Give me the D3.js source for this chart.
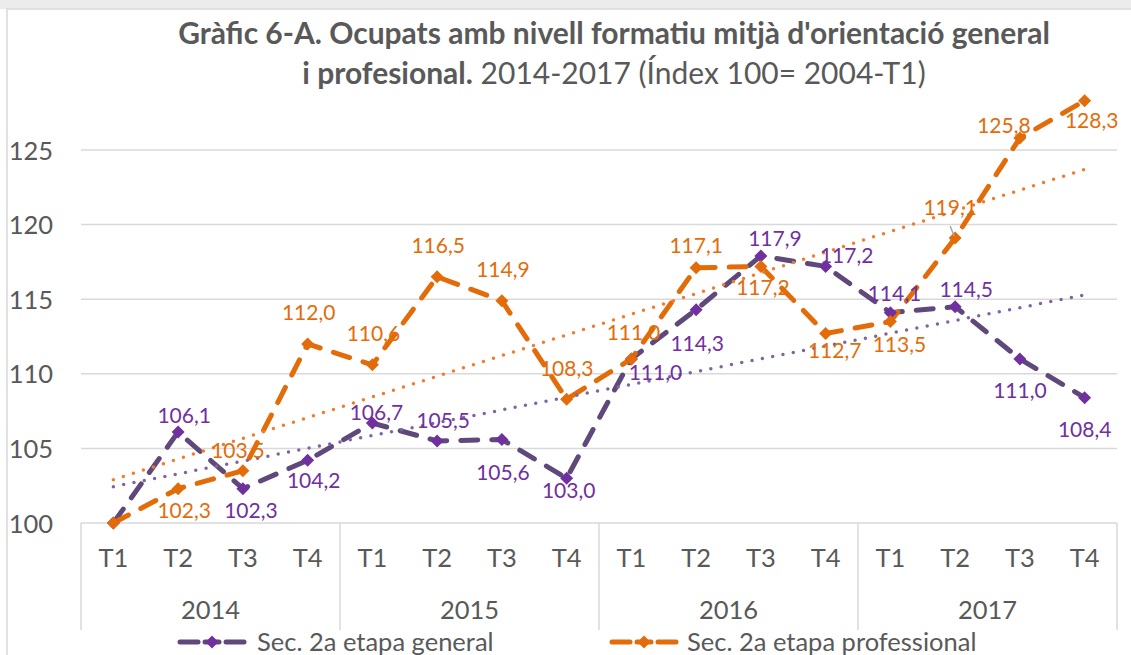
<!DOCTYPE html>
<html>
<head>
<meta charset="utf-8">
<script src="https://cdn.jsdelivr.net/npm/d3@7"></script>
<style>
  body { margin: 0; background: #fff; }
  text { font-family: Lato, "Open Sans", sans-serif; }
</style>
</head>
<body>
<svg id="chart" width="1131" height="655"></svg>
<script>
// data
var years = ["2014", "2015", "2016", "2017"];
var quarters = ["T1", "T2", "T3", "T4"];
var general = [100.0, 106.1, 102.3, 104.2, 106.7, 105.5, 105.6, 103.0,
               111.0, 114.3, 117.9, 117.2, 114.1, 114.5, 111.0, 108.4];
var professional = [100.0, 102.3, 103.5, 112.0, 110.6, 116.5, 114.9, 108.3,
                    111.0, 117.1, 117.2, 112.7, 113.5, 119.1, 125.8, 128.3];
var yTicks = [100, 105, 110, 115, 120, 125];
var seriesNames = ["Sec. 2a etapa general", "Sec. 2a etapa professional"];

// label placement (offset of text centre / baseline from the point), null = no label
var generalLabelPos = [null, [6,-9], [8,29], [6,28], [4,-3], [6,-13], [1,41], [2,20],
                       [24,21], [1,41], [14,-10], [21,-3], [4,-12], [11,-10], [0,39], [0,39]];
var professionalLabelPos = [null, [6,29], [-5,-13], [1,-24], [1,-24], [1,-24], [1,-24], [0,-23],
                            [2,-19], [0,-15], [2,29], [9,24], [9,30], [-5,-23], [-16,-5], [7,27]];

var svg = d3.select("#chart");
var grey = "#595959";
var axisFont = "25.5px";

// chart frame
svg.append("rect").attr("x", 0).attr("y", 0).attr("width", 1131).attr("height", 9).attr("fill", "#ececec");
svg.append("rect").attr("x", 7).attr("y", 9).attr("width", 1140).attr("height", 660)
  .attr("fill", "#fff").attr("stroke", "#d9d9d9").attr("stroke-width", 1.5);

var cats = [];
years.forEach(function(yr) {
  quarters.forEach(function(q) { cats.push(yr + "-" + q); });
});

var x = d3.scaleBand().domain(cats).range([81, 1117]);
var y = d3.scaleLinear().domain([100, 125]).range([523, 150]);
var cx = function(i) { return x(cats[i]) + x.bandwidth() / 2; };

// gridlines
svg.append("g").selectAll("line").data(yTicks).enter().append("line")
  .attr("x1", 81).attr("x2", 1117)
  .attr("y1", function(d) { return y(d); }).attr("y2", function(d) { return y(d); })
  .attr("stroke", "#d9d9d9").attr("stroke-width", 1.5);

// y axis labels
var yAxis = svg.append("g").attr("transform", "translate(81,0)")
  .call(d3.axisLeft(y).tickValues(yTicks).tickSize(0).tickPadding(28));
yAxis.select(".domain").remove();
yAxis.selectAll("text").attr("fill", grey).style("font-size", axisFont)
  .style("font-family", "Lato").attr("dy", "0.36em");

// category axis: quarters
var xAxis = svg.append("g").attr("transform", "translate(0,523)")
  .call(d3.axisBottom(x).tickSize(0).tickPadding(26).tickFormat(function(d) { return d.split("-")[1]; }));
xAxis.select(".domain").remove();
xAxis.selectAll("text").attr("fill", grey).style("font-size", axisFont).style("font-family", "Lato");

// year group separators and labels
var bounds = years.map(function(yr, i) { return x(cats[i * 4]); }).concat([1117]);
svg.append("g").selectAll("line").data(bounds).enter().append("line")
  .attr("x1", function(d) { return d; }).attr("x2", function(d) { return d; })
  .attr("y1", 523).attr("y2", 630)
  .attr("stroke", "#d9d9d9").attr("stroke-width", 1.5);
svg.append("g").selectAll("text").data(years).enter().append("text")
  .attr("x", function(d, i) { return (bounds[i] + bounds[i + 1]) / 2; })
  .attr("y", 619).attr("text-anchor", "middle")
  .attr("fill", grey).style("font-size", axisFont)
  .text(function(d) { return d; });

// linear trend from the series values
function trend(vals) {
  var n = vals.length, mx = (n - 1) / 2, my = d3.mean(vals), sxy = 0, sxx = 0;
  vals.forEach(function(v, i) { sxy += (i - mx) * (v - my); sxx += (i - mx) * (i - mx); });
  var b = sxy / sxx, a = my - b * mx;
  return [[0, a], [n - 1, a + b * (n - 1)]];
}

var series = [
  { vals: general, line: "#5F497A", marker: "#7030A0", label: "#7030A0", trend: "#8064A2", pos: generalLabelPos },
  { vals: professional, line: "#E36C09", marker: "#E36C09", label: "#E36C09", trend: "#F07D2E", pos: professionalLabelPos }
];

var line = d3.line().x(function(d, i) { return cx(i); }).y(function(d) { return y(d); });
var diamond = function(r) { return "M0," + (-r) + "L" + r + ",0L0," + r + "L" + (-r) + ",0Z"; };

series.forEach(function(s) {
  svg.append("path").datum(s.vals).attr("d", line)
    .attr("fill", "none").attr("stroke", s.line).attr("stroke-width", 5)
    .attr("stroke-dasharray", "17 14").attr("stroke-linecap", "round").attr("stroke-linejoin", "round");
});

series.forEach(function(s) {
  var t = trend(s.vals);
  svg.append("line")
    .attr("x1", cx(t[0][0])).attr("y1", y(t[0][1]))
    .attr("x2", cx(t[1][0])).attr("y2", y(t[1][1]))
    .attr("stroke", s.trend).attr("stroke-width", 3.5)
    .attr("stroke-dasharray", "0 10.5").attr("stroke-linecap", "round");
});

series.forEach(function(s) {
  svg.append("g").selectAll("path").data(s.vals).enter().append("path")
    .attr("d", diamond(6.5))
    .attr("transform", function(d, i) { return "translate(" + cx(i) + "," + y(d) + ")"; })
    .attr("fill", s.marker);
});

// leader line for the 119,1 label
svg.append("line")
  .attr("x1", cx(13) - 5).attr("y1", y(professional[13]) - 12)
  .attr("x2", cx(13) - 1).attr("y2", y(professional[13]) - 2)
  .attr("stroke", "#a6a6a6").attr("stroke-width", 1.5);

// data labels
var fmt = function(v) { return d3.format(".1f")(v).replace(".", ","); };
series.forEach(function(s) {
  var g = svg.append("g");
  s.vals.forEach(function(v, i) {
    if (!s.pos[i]) return;
    g.append("text")
      .attr("x", cx(i) + s.pos[i][0]).attr("y", y(v) + s.pos[i][1])
      .attr("text-anchor", "middle").attr("fill", s.label)
      .style("font-size", "21px").text(fmt(v));
  });
});

// title
var t1 = svg.append("text").attr("x", 614).attr("y", 44).attr("text-anchor", "middle")
  .attr("fill", grey).style("font-size", "26px").style("font-weight", "bold")
  .text("Gràfic 6-A. Ocupats amb nivell formatiu mitjà d'orientació general");
var fs = 26 * 872 / t1.node().getComputedTextLength();
t1.style("font-size", fs + "px");
var t2 = svg.append("text").attr("x", 614).attr("y", 84).attr("text-anchor", "middle")
  .attr("fill", grey).style("font-size", fs + "px");
t2.append("tspan").style("font-weight", "bold").text("i profesional.");
t2.append("tspan").text(" 2014-2017 (Índex 100= 2004-T1)");

// legend
var legendItems = [
  { name: seriesNames[0], s: series[0], x0: 178, tx: 257 },
  { name: seriesNames[1], s: series[1], x0: 610, tx: 687 }
];
legendItems.forEach(function(it) {
  var ly = 642;
  [[it.x0 + 2, it.x0 + 20], [it.x0 + 48, it.x0 + 66]].forEach(function(seg) {
    svg.append("line").attr("x1", seg[0]).attr("x2", seg[1]).attr("y1", ly).attr("y2", ly)
      .attr("stroke", it.s.line).attr("stroke-width", 5).attr("stroke-linecap", "round");
  });
  svg.append("line").attr("x1", it.x0 + 27).attr("x2", it.x0 + 41).attr("y1", ly).attr("y2", ly)
    .attr("stroke", it.s.line).attr("stroke-width", 5).attr("stroke-linecap", "round");
  svg.append("path").attr("d", diamond(6.5))
    .attr("transform", "translate(" + (it.x0 + 34) + "," + ly + ")").attr("fill", it.s.marker);
  svg.append("text").attr("x", it.tx).attr("y", 651).attr("fill", grey)
    .style("font-size", axisFont).text(it.name);
});
</script>
</body>
</html>
